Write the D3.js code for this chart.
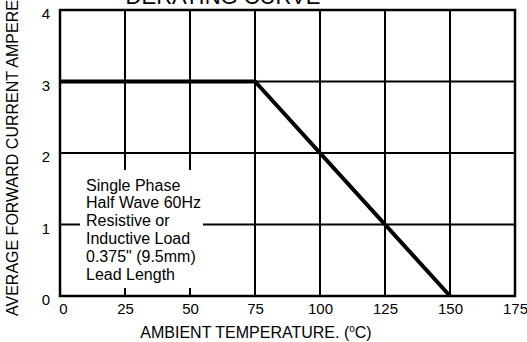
<!DOCTYPE html>
<html>
<head>
<meta charset="utf-8">
<script src="https://cdn.jsdelivr.net/npm/d3@7"></script>
<style>
  html, body { margin: 0; padding: 0; background: #fff; }
  svg { display: block; }
  text { font-family: "Liberation Sans", Arial, Helvetica, sans-serif; fill: #000; }
</style>
</head>
<body>
<svg id="chart" width="527" height="342"></svg>
<script>
// Derating curve: average forward current vs ambient temperature
const temperatures = [0, 75, 150];          // °C
const currents     = [3, 3, 0];             // A
const xTicks = [0, 25, 50, 75, 100, 125, 150, 175];
const yTicks = [0, 1, 2, 3, 4];
const noteLines = [
  "Single Phase",
  "Half Wave 60Hz",
  "Resistive or",
  "Inductive Load",
  "0.375\" (9.5mm)",
  "Lead Length"
];

const svg = d3.select("#chart");
const plot = { left: 60, right: 515, top: 10, bottom: 296 };

const x = d3.scaleLinear().domain([0, 175]).range([plot.left, plot.right]);
const y = d3.scaleLinear().domain([0, 4]).range([plot.bottom, plot.top]);

// grid lines
const grid = svg.append("g");
grid.selectAll("line.v").data(xTicks).join("line")
  .attr("x1", d => x(d)).attr("x2", d => x(d))
  .attr("y1", plot.top).attr("y2", plot.bottom)
  .attr("stroke", "#000").attr("stroke-width", 2);
grid.selectAll("line.h").data(yTicks).join("line")
  .attr("x1", plot.left).attr("x2", plot.right)
  .attr("y1", d => y(d)).attr("y2", d => y(d))
  .attr("stroke", "#000").attr("stroke-width", 2);

// white panel behind the test-condition note
svg.append("rect")
  .attr("x", 80).attr("y", 170)
  .attr("width", 123).attr("height", 118)
  .attr("fill", "#fff");

// plot frame
svg.append("rect")
  .attr("x", plot.left).attr("y", plot.top)
  .attr("width", plot.right - plot.left).attr("height", plot.bottom - plot.top)
  .attr("fill", "none").attr("stroke", "#000").attr("stroke-width", 2.5);

// derating curve
const line = d3.line().x((d, i) => x(temperatures[i])).y(d => y(d));
svg.append("path")
  .datum(currents)
  .attr("d", line)
  .attr("fill", "none")
  .attr("stroke", "#000")
  .attr("stroke-width", 4)
  .attr("stroke-linejoin", "miter");

// x tick labels
const xAxis = d3.axisBottom(x).tickValues(xTicks).tickSize(0).tickFormat(d3.format("d"));
const gx = svg.append("g").attr("transform", `translate(0,${plot.bottom})`).call(xAxis);
gx.select(".domain").remove();
gx.selectAll("text")
  .attr("y", 17.5).attr("dy", 0)
  .attr("dx", d => d === 0 ? 3 : 0)
  .style("font-size", "15px")
  .style("font-family", "'Liberation Sans', Arial, sans-serif");

// y tick labels
const yAxis = d3.axisLeft(y).tickValues(yTicks).tickSize(0).tickFormat(d3.format("d"));
const gy = svg.append("g").attr("transform", `translate(${plot.left},0)`).call(yAxis);
gy.select(".domain").remove();
gy.selectAll("text")
  .attr("x", -10).attr("dy", "0.58em")
  .style("font-size", "15px")
  .style("font-family", "'Liberation Sans', Arial, sans-serif");

// note text
const note = svg.append("text")
  .attr("x", 86).attr("y", 190.5)
  .style("font-size", "16px");
note.selectAll("tspan").data(noteLines).join("tspan")
  .attr("x", 86)
  .attr("dy", (d, i) => i === 0 ? 0 : 17.9)
  .text(d => d);

// chart title
svg.append("text")
  .attr("x", 223).attr("y", 4)
  .attr("text-anchor", "middle")
  .style("font-size", "22px")
  .text("DERATING CURVE");

// x axis title
const xt = svg.append("text")
  .attr("x", 256).attr("y", 338)
  .attr("text-anchor", "middle")
  .style("font-size", "16px");
xt.append("tspan").text("AMBIENT TEMPERATURE. (");
xt.append("tspan").attr("dy", -6).style("font-size", "10px").text("o");
xt.append("tspan").attr("dy", 6).text("C)");

// y axis title
svg.append("text")
  .attr("transform", "translate(18,316) rotate(-90)")
  .attr("text-anchor", "start")
  .style("font-size", "16px")
  .text("AVERAGE FORWARD CURRENT AMPERES");
</script>
</body>
</html>
